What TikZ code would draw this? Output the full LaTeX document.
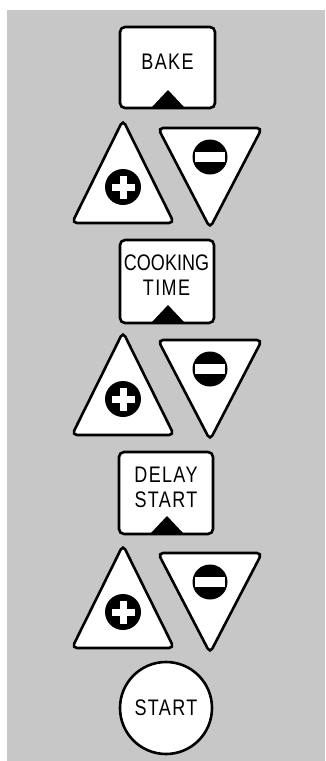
\documentclass[tikz,border=0pt]{standalone}
\usepackage{fontspec}
\newfontfamily\keyfont[FakeStretch=0.8,LetterSpace=6]{Liberation Sans}

\begin{document}
\begin{tikzpicture}[x=1pt,y=-1pt,
    key/.style={draw,line width=2.6pt,fill=white,rounded corners=5pt},
    lbl/.style={font=\keyfont\fontsize{22.5}{25}\selectfont,align=center,inner sep=0pt}]
    \useasboundingbox (0,0) rectangle (325,761);
    \fill[black!22] (7,10) rectangle (325,761);

    % mode keys with the small marker at the bottom
    \draw[key] (120,27) rectangle (215,108);
    \fill (152,107) -- (168,90) -- (184,107) -- cycle;
    \node[lbl] (bake) at (167.5,61.5) {BAKE};

    \draw[key] (120,240) rectangle (214,323);
    \fill (152,322) -- (168,305) -- (184,322) -- cycle;
    \node[lbl] (cooking) at (166.5,275) {{\addfontfeature{LetterSpace=0}COOKING}\\TIME};

    \draw[key] (119,452) rectangle (213,534);
    \fill (151,533) -- (167,516) -- (183,533) -- cycle;
    \node[lbl] (delay) at (166,487) {DELAY\\START};

    % up / down pairs
    \foreach \dy in {0,212,425} {
        \draw[key] (123,120+\dy) -- (174,223+\dy) -- (72,223+\dy) -- cycle;
        \fill (123,187+\dy) circle (18);
        \fill[white] (111.5,183.5+\dy) rectangle (134.5,190.5+\dy);
        \fill[white] (119.5,175.5+\dy) rectangle (126.5,198.5+\dy);

        \draw[key] (158,128+\dy) -- (262,128+\dy) -- (210,228+\dy) -- cycle;
        \fill (210,157+\dy) circle (17.5);
        \fill[white] (195,152+\dy) rectangle (225,162+\dy);
    }

    \node[lbl,draw,circle,line width=2.6pt,fill=white,minimum size=92pt] (start) at (166,708) {START};
\end{tikzpicture}
\end{document}
